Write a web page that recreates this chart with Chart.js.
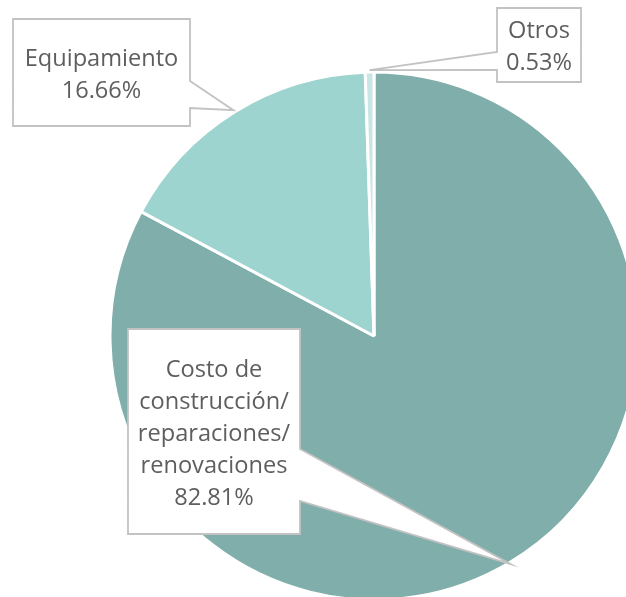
<!DOCTYPE html>
<html>
<head>
<meta charset="utf-8">
<script src="https://cdn.jsdelivr.net/npm/chart.js@4/dist/chart.umd.min.js"></script>
<style>
  html, body { margin: 0; padding: 0; background: #ffffff; }
  #wrap { width: 626px; height: 597px; position: relative; overflow: hidden; }
</style>
</head>
<body>
<div id="wrap"><canvas id="c" width="626" height="597"></canvas></div>
<script>
// ---- data ----
const categories = [
  ["Costo de", "construcción/", "reparaciones/", "renovaciones"],
  ["Equipamiento"],
  ["Otros"]
];
const shares = [82.81, 16.66, 0.53];
const percentLabels = ["82.81%", "16.66%", "0.53%"];
const sliceColors = ["#80AEAA", "#9DD4D0", "#C8E6E3"];

// ---- label box layout (left, top, right, bottom) & pointer base on box edge ----
const boxes = [
  { l: 128, t: 329, r: 300, b: 534, side: "right", p1: 449, p2: 501 },
  { l: 13,  t: 19,  r: 190, b: 126, side: "right", p1: 81,  p2: 108 },
  { l: 497, t: 8,   r: 581, b: 82,  side: "left",  p1: 52,  p2: 70 }
];

const calloutPlugin = {
  id: 'callouts',
  afterDatasetsDraw(chart) {
    const ctx = chart.ctx;
    const meta = chart.getDatasetMeta(0);
    meta.data.forEach((arc, i) => {
      const bx = boxes[i];
      const mid = (arc.startAngle + arc.endAngle) / 2;
      const rr = arc.outerRadius + 2;
      const tx = arc.x + Math.cos(mid) * rr;
      const ty = arc.y + Math.sin(mid) * rr;
      ctx.save();
      ctx.beginPath();
      if (bx.side === "right") {
        ctx.moveTo(bx.l, bx.t);
        ctx.lineTo(bx.r, bx.t);
        ctx.lineTo(bx.r, bx.p1);
        ctx.lineTo(tx, ty);
        ctx.lineTo(bx.r, bx.p2);
        ctx.lineTo(bx.r, bx.b);
        ctx.lineTo(bx.l, bx.b);
      } else {
        ctx.moveTo(bx.l, bx.t);
        ctx.lineTo(bx.r, bx.t);
        ctx.lineTo(bx.r, bx.b);
        ctx.lineTo(bx.l, bx.b);
        ctx.lineTo(bx.l, bx.p2);
        ctx.lineTo(tx, ty);
        ctx.lineTo(bx.l, bx.p1);
      }
      ctx.closePath();
      ctx.fillStyle = "#ffffff";
      ctx.fill();
      ctx.lineWidth = 1.8;
      ctx.strokeStyle = "#C2C2C2";
      ctx.lineJoin = "miter";
      ctx.stroke();

      const lines = categories[i].concat([percentLabels[i]]);
      const cx = (bx.l + bx.r) / 2;
      const cy = (bx.t + bx.b) / 2;
      const lh = 32;
      ctx.fillStyle = "#5E5E5E";
      ctx.font = "23.6px 'Open Sans'";
      ctx.textAlign = "center";
      ctx.textBaseline = "alphabetic";
      lines.forEach((s, k) => {
        const y = cy + (k - (lines.length - 1) / 2) * lh + 9;
        ctx.fillText(s, cx, y);
      });
      ctx.restore();
    });
  }
};

new Chart(document.getElementById('c'), {
  type: 'pie',
  data: {
    labels: categories.map(c => c.join(' ')),
    datasets: [{
      data: shares,
      backgroundColor: sliceColors,
      borderColor: "#ffffff",
      borderWidth: 3,
      radius: 264
    }]
  },
  options: {
    responsive: false,
    animation: false,
    layout: { padding: { left: 122, right: 0, top: 75, bottom: 0 } },
    plugins: {
      legend: { display: false },
      tooltip: { enabled: false },
      title: { display: false }
    }
  },
  plugins: [calloutPlugin]
});
</script>
</body>
</html>
